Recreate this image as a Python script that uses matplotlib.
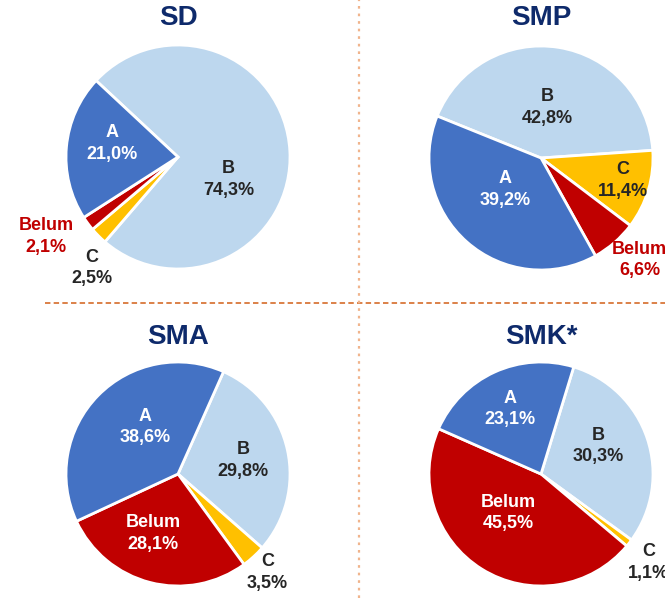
import matplotlib
matplotlib.use("Agg")
import matplotlib.pyplot as plt
import numpy as np

plt.rcParams['font.family'] = ['Liberation Sans', 'DejaVu Sans']

# ---- data ----
titles = ["SD", "SMP", "SMA", "SMK*"]
categories = ["B", "C", "Belum", "A"]
sd_values = [74.3, 2.5, 2.1, 21.0]
smp_values = [42.8, 11.4, 6.6, 39.2]
sma_values = [29.8, 3.5, 28.1, 38.6]
smk_values = [30.3, 1.1, 45.5, 23.1]
all_values = [sd_values, smp_values, sma_values, smk_values]

# ---- style / layout ----
colors = {"A": "#4472C4", "B": "#BDD7EE", "C": "#FFC000", "Belum": "#C00000"}
W, H = 665, 598
centers = [(178, 157), (541, 158), (178, 474), (541, 474)]   # pixel coords (y down)
title_y = [18, 18, 337, 337]
radius = 112
start_angles = [137, 158, 66, 73]

# label offsets (in radius units, y up) per pie, order as categories
label_offsets = [
    {"B": (0.45, -0.20), "C": (-0.77, -0.99), "Belum": (-1.18, -0.71), "A": (-0.59, 0.12)},
    {"B": (0.06, 0.45), "C": (0.73, -0.20), "Belum": (0.88, -0.91), "A": (-0.32, -0.28)},
    {"B": (0.58, 0.12), "C": (0.80, -0.88), "Belum": (-0.22, -0.53), "A": (-0.29, 0.42)},
    {"B": (0.51, 0.25), "C": (0.96, -0.79), "Belum": (-0.29, -0.35), "A": (-0.28, 0.58)},
]
# label colors per pie
label_colors = [
    {"B": "#262626", "C": "#262626", "Belum": "#C00000", "A": "white"},
    {"B": "#262626", "C": "#262626", "Belum": "#C00000", "A": "white"},
    {"B": "#262626", "C": "#262626", "Belum": "white", "A": "white"},
    {"B": "#262626", "C": "#262626", "Belum": "white", "A": "white"},
]

fig = plt.figure(figsize=(W / 100, H / 100), dpi=100)
ax = fig.add_axes([0, 0, 1, 1])

for i, vals in enumerate(all_values):
    cx, cy = centers[i]
    cyd = H - cy
    ax.pie(vals, colors=[colors[c] for c in categories], startangle=start_angles[i],
           counterclock=False, radius=radius, center=(cx, cyd), frame=True,
           wedgeprops=dict(edgecolor="white", linewidth=2))
    for c, v in zip(categories, vals):
        dx, dy = label_offsets[i][c]
        txt = f"{c}\n{v:.1f}%".replace(".", ",")
        ax.text(cx + dx * radius, cyd + dy * radius, txt, ha="center", va="center",
                fontsize=13, fontweight="bold", color=label_colors[i][c],
                linespacing=1.35)
    ax.text(cx, H - title_y[i], titles[i], ha="center", va="center", fontsize=20,
            fontweight="bold", color="#0E2A6B")

# separators
ax.plot([45, W], [H - 303, H - 303], color="#D9773A", linewidth=1.3,
        linestyle=(0, (3, 1.8)), solid_capstyle="butt")
ax.plot([359, 359], [0, H], color="#F0B48C", linewidth=1.6,
        linestyle=(0, (1.2, 2.2)))

ax.set_xlim(0, W)
ax.set_ylim(0, H)
ax.set_aspect("equal")
ax.axis("off")
fig.savefig("out.png", dpi=100)
